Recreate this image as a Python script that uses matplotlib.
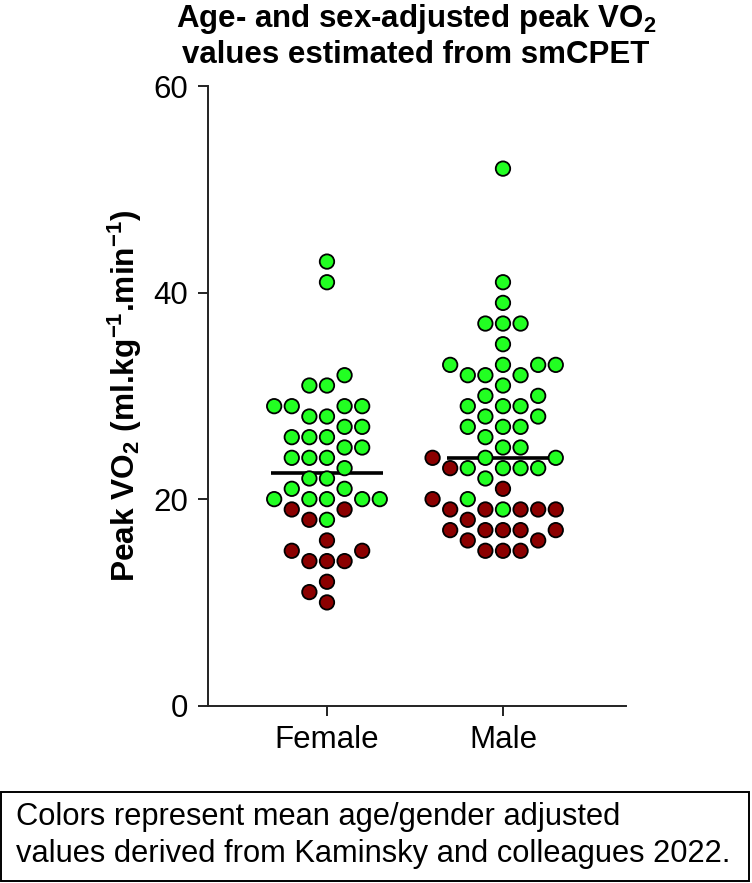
import matplotlib

matplotlib.use("Agg")

import matplotlib.pyplot as plt
import numpy as np
from matplotlib.patches import Rectangle


OUTPUT_PATH = "out.png"

CATEGORIES = ["Female", "Male"]

# peak VO2 values, split by colour group
FEMALE_ABOVE = [43, 41, 32, 31, 31, 29, 29, 29, 29, 28, 28, 27, 27, 26, 26, 26,
                25, 25, 24, 24, 24, 23, 22, 22, 21, 21, 20, 20, 20, 20, 20, 18]
FEMALE_BELOW = [19, 19, 18, 16, 15, 15, 14, 14, 14, 12, 11, 10]
MALE_ABOVE = [52, 41, 39, 37, 37, 37, 35, 33, 33, 33, 33, 32, 32, 32, 31, 30,
              30, 29, 29, 29, 28, 28, 27, 27, 27, 26, 25, 25, 24, 24, 23, 23,
              23, 23, 22, 20, 19]
MALE_BELOW = [24, 23, 21, 20, 19, 19, 19, 19, 19, 18, 17, 17, 17, 17, 17, 16,
              16, 15, 15, 15]

Y_TICKS = [0, 20, 40, 60]

GREEN = "#22FF22"
RED = "#8B0000"

FONT = "Liberation Sans"

plt.rcParams["font.family"] = FONT
plt.rcParams["mathtext.fontset"] = "custom"
plt.rcParams["mathtext.rm"] = f"{FONT}:bold"
plt.rcParams["mathtext.it"] = f"{FONT}:bold"
plt.rcParams["mathtext.bf"] = f"{FONT}:bold"


def swarm_offsets(values, px_per_x, px_per_y, min_dist, step):
    # greedy grid swarm: each point goes to the free slot nearest the centre
    values = np.asarray(values, dtype=float)
    order = np.argsort(values, kind="stable")
    placed = []
    offsets = np.zeros(len(values))
    slots = [0.0]
    for k in range(1, 40):
        slots += [-k * step, k * step]
    for i in order:
        y = values[i] * px_per_y
        for x in slots:
            if all((x - px) ** 2 + (y - py) ** 2 >= min_dist ** 2 for px, py in placed):
                break
        placed.append((x, y))
        offsets[i] = x / px_per_x
    return offsets


def main():
    fig = plt.figure(figsize=(7.52, 8.83), dpi=100)
    ax = fig.add_axes([208 / 752, 1 - 705.7 / 883, 418 / 752, 619.7 / 883])

    ax.set_xlim(-0.676, 1.699)
    ax.set_ylim(0, 60)

    bbox = ax.get_window_extent()
    px_per_x = bbox.width / (ax.get_xlim()[1] - ax.get_xlim()[0])
    px_per_y = bbox.height / (ax.get_ylim()[1] - ax.get_ylim()[0])

    groups = [(FEMALE_ABOVE, FEMALE_BELOW), (MALE_ABOVE, MALE_BELOW)]
    for pos, (above, below) in enumerate(groups):
        values = np.array(above + below, dtype=float)
        colors = [GREEN] * len(above) + [RED] * len(below)
        offsets = swarm_offsets(values, px_per_x, px_per_y, min_dist=15.5, step=8.8)

        median = np.median(values)
        ax.plot([pos - 0.32, pos + 0.32], [median, median], color="black",
                linewidth=2.6, solid_capstyle="butt", zorder=2)

        ax.scatter(pos + offsets, values, s=108, c=colors, edgecolors="black",
                   linewidths=1.3, zorder=3, clip_on=False)

    ax.set_xticks(range(len(CATEGORIES)))
    ax.set_xticklabels(CATEGORIES)
    ax.set_yticks(Y_TICKS)

    for side in ["top", "right"]:
        ax.spines[side].set_visible(False)
    for side in ["left", "bottom"]:
        ax.spines[side].set_linewidth(1.4)
        ax.spines[side].set_color("#222222")

    ax.tick_params(axis="both", length=7.2, width=1.4, color="#222222",
                   labelsize=22.5, pad=7)

    ax.set_ylabel(r"Peak VO$_2$ (ml.kg$^{-1}$.min$^{-1}$)", fontsize=22.8,
                  fontweight="bold", labelpad=7)

    fig.text(416 / 752, 1 - 27 / 883, r"Age- and sex-adjusted peak VO$_2$",
             ha="center", va="baseline", fontsize=22.5, fontweight="bold")
    fig.text(416 / 752, 1 - 63 / 883, "values estimated from smCPET",
             ha="center", va="baseline", fontsize=22.5, fontweight="bold")

    box = Rectangle((1 / 752, 1 - 881 / 883), 748 / 752, 89 / 883,
                    transform=fig.transFigure, fill=False, edgecolor="black",
                    linewidth=1.4)
    fig.patches.append(box)
    fig.text(16 / 752, 1 - 825 / 883, "Colors represent mean age/gender adjusted",
             ha="left", va="baseline", fontsize=22.2)
    fig.text(16 / 752, 1 - 862 / 883,
             "values derived from Kaminsky and colleagues 2022.",
             ha="left", va="baseline", fontsize=22.2)

    fig.savefig(OUTPUT_PATH, dpi=100)
    plt.close(fig)


if __name__ == "__main__":
    main()
